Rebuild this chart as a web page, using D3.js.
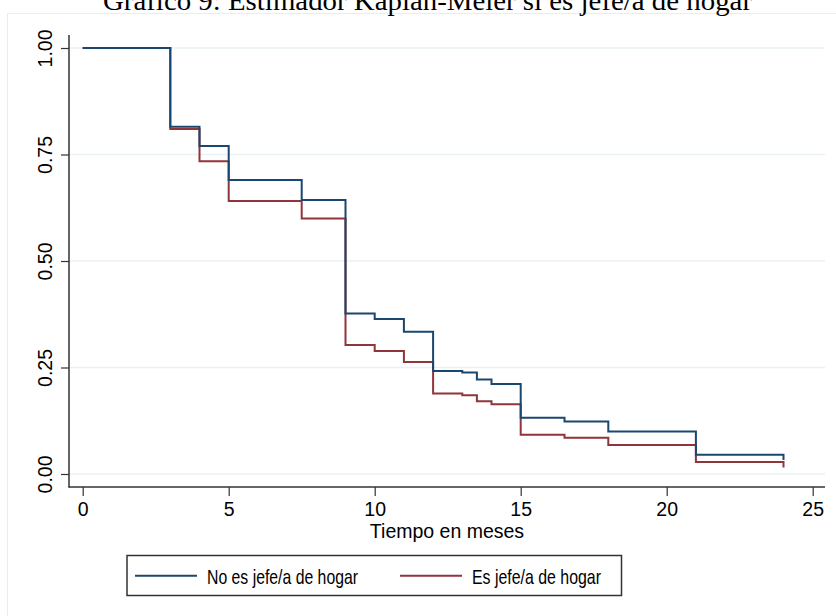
<!DOCTYPE html>
<html>
<head>
<meta charset="utf-8">
<script src="https://cdn.jsdelivr.net/npm/d3@7"></script>
<style>
  body { margin: 0; background: #fff; }
  svg { display: block; }
  .tick text { font-family: "Liberation Sans", Arial, sans-serif; font-size: 19.5px; fill: #000; }
</style>
</head>
<body>
<div id="chart"></div>
<script>
// Kaplan-Meier survival estimates
const times = [0, 3, 4, 5, 7.5, 9, 10, 11, 12, 13, 13.5, 14, 15, 16.5, 18, 21, 24];
const noJefe = [1, 0.815, 0.77, 0.69, 0.643, 0.377, 0.364, 0.334, 0.242, 0.238, 0.222, 0.211, 0.132, 0.123, 0.100, 0.045, 0.033];
const jefe = [1, 0.81, 0.734, 0.641, 0.600, 0.303, 0.289, 0.263, 0.189, 0.185, 0.171, 0.164, 0.092, 0.085, 0.068, 0.028, 0.015];
const xTicks = [0, 5, 10, 15, 20, 25];
const yTicks = [0, 0.25, 0.5, 0.75, 1];
const seriesNames = ['No es jefe/a de hogar', 'Es jefe/a de hogar'];
const colors = ['#1a476f', '#90353b'];

const width = 836, height = 616;
const svg = d3.select('#chart').append('svg')
  .attr('width', width).attr('height', height);

const x = d3.scaleLinear().domain([0, 25]).range([82.7, 812.7]);
const y = d3.scaleLinear().domain([0, 1]).range([474, 48]);

// faint outer frame of the graph region
svg.append('path')
  .attr('d', 'M7.5,' + height + 'V13.5H' + width)
  .attr('fill', 'none').attr('stroke', '#ececec').attr('stroke-width', 1);

// title (top is cut off in the original too)
svg.append('text')
  .attr('x', 103).attr('y', 10)
  .style('font-family', '"Liberation Serif", "DejaVu Serif", serif')
  .style('font-size', '27px')
  .attr('textLength', 649)
  .attr('lengthAdjust', 'spacingAndGlyphs')
  .text('Gráfico 9: Estimador Kaplan-Meier si es jefe/a de hogar');

// gridlines
svg.append('g').selectAll('line').data(yTicks).join('line')
  .attr('x1', 69).attr('x2', 825)
  .attr('y1', d => y(d)).attr('y2', d => y(d))
  .attr('stroke', '#eaf2f3').attr('stroke-width', 1.5);

// y axis
const yAxis = svg.append('g').attr('transform', 'translate(69,0)')
  .call(d3.axisLeft(y).tickValues(yTicks).tickFormat(d3.format('.2f')).tickSize(8).tickPadding(8));
yAxis.select('.domain').remove();
yAxis.selectAll('.tick line').attr('stroke', '#333').attr('stroke-width', 1.2);
yAxis.selectAll('.tick text')
  .attr('transform', 'rotate(-90)')
  .attr('x', 0).attr('y', -24)
  .attr('dy', '0.35em')
  .attr('text-anchor', 'middle');

// x axis
const xAxis = svg.append('g').attr('transform', 'translate(0,487)')
  .call(d3.axisBottom(x).tickValues(xTicks).tickSize(9).tickPadding(6));
xAxis.select('.domain').remove();
xAxis.selectAll('.tick line').attr('stroke', '#333').attr('stroke-width', 1.2);

// axis lines
svg.append('line').attr('x1', 69).attr('x2', 69).attr('y1', 35).attr('y2', 487.5)
  .attr('stroke', '#333').attr('stroke-width', 1.5);
svg.append('line').attr('x1', 68.5).attr('x2', 825).attr('y1', 487).attr('y2', 487)
  .attr('stroke', '#333').attr('stroke-width', 1.5);

svg.append('text')
  .attr('x', 447).attr('y', 538)
  .attr('text-anchor', 'middle')
  .style('font-family', '"Liberation Sans", Arial, sans-serif')
  .style('font-size', '19.5px')
  .text('Tiempo en meses');

// survival step lines
const line = d3.line()
  .x(d => x(d[0])).y(d => y(d[1]))
  .curve(d3.curveStepAfter);

const series = [noJefe, jefe];
series.slice().reverse().forEach((vals, i) => {
  const k = series.length - 1 - i;
  const pts = times.map((t, j) => [t, vals[j]]);
  // final drop at the last observed time
  const last = pts[pts.length - 1];
  const path = line(pts.slice(0, -1).concat([[last[0], pts[pts.length - 2][1]], last]));
  svg.append('path')
    .attr('d', path)
    .attr('fill', 'none')
    .attr('stroke', colors[k])
    .attr('stroke-width', 2);
});

// legend
const lg = svg.append('g');
lg.append('rect')
  .attr('x', 127).attr('y', 555.5).attr('width', 494.5).attr('height', 40)
  .attr('fill', '#fff').attr('stroke', '#333').attr('stroke-width', 1.5);
const legendX = [135, 400];
seriesNames.forEach((name, i) => {
  lg.append('line')
    .attr('x1', legendX[i]).attr('x2', legendX[i] + 62)
    .attr('y1', 575.7).attr('y2', 575.7)
    .attr('stroke', colors[i]).attr('stroke-width', 2);
  lg.append('text')
    .attr('x', legendX[i] + 72).attr('y', 584)
    .style('font-family', '"Liberation Sans", Arial, sans-serif')
    .style('font-size', '21px')
    .attr('textLength', i === 0 ? 151 : 129)
    .attr('lengthAdjust', 'spacingAndGlyphs')
    .text(name);
});
</script>
</body>
</html>
